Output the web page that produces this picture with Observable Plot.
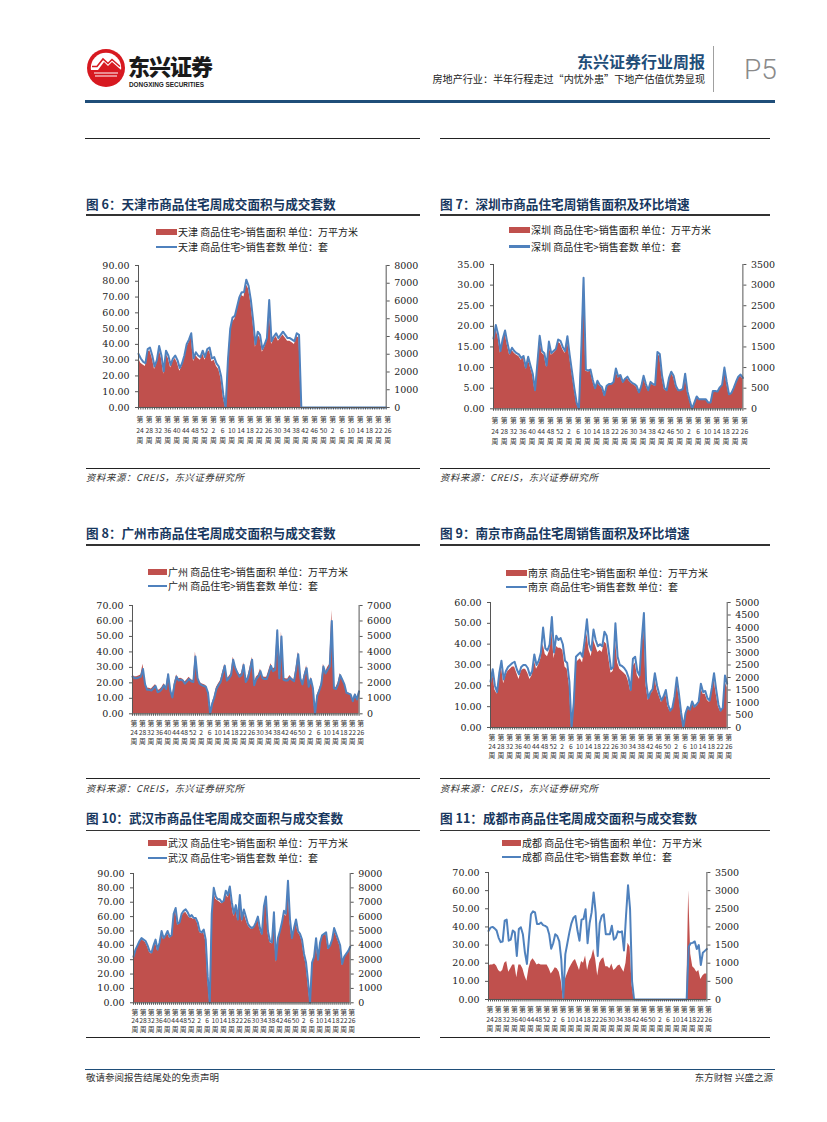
<!DOCTYPE html>
<html><head><meta charset="utf-8">
<script src="https://cdn.jsdelivr.net/npm/d3@7"></script>
<script src="https://cdn.jsdelivr.net/npm/@observablehq/plot@0.6"></script>
<style>
html,body{margin:0;padding:0;background:#fff;}
#page{position:relative;width:827px;height:1122px;overflow:hidden;background:#fff;font-family:"Noto Sans CJK SC",sans-serif;}
#page svg{overflow:visible;}
</style></head>
<body><div id="page"></div>
<script>
// ---------- shared category labels ----------
const xTickLabels = ["24","28","32","36","40","44","48","52","2","6","10","14","18","22","26","30","34","38","42","46","50","2","6","10","14","18","22","26"];

// ---------- 图6 天津 ----------
const tjLeftTicks = [0,10,20,30,40,50,60,70,80,90];
const tjRightTicks = [0,1000,2000,3000,4000,5000,6000,7000,8000];
const tjArea = [31,28,27,26,35,36,31,24,28,37, 31,21,34,31,25,29,31,28,23,26, 31,38,41,45,29,33,31,30,34,30, 35,36,29,30,26,24,18,6,0,28, 48,54,56,62,68,71,70,78,75,66, 53,38,46,44,35,38,42,64,40,43, 45,42,44,46,44,42,42,41,40,45, 44, 0,0,0,0,0,0,0,0,0,0, 0,0,0,0,0,0,0,0,0,0, 0,0,0,0,0,0,0,0,0,0, 0,0,0,0,0,0,0,0];
const tjSets = [3020,2760,2580,2490,3290,3380,2930,2310,2670,3470, 2930,2040,3200,2930,2400,2760,2930,2670,2220,2490, 2930,3560,3820,4180,2760,3110,2930,2840,3200,2840, 3290,3380,2760,2840,2490,2310,1780,710,0,2670, 4440,5070,5160,5690,6220,6490,6490,7200,6850,6050, 4890,3560,4270,4090,3290,3560,3910,6050,3730,4000, 4180,3910,4090,4270,4090,3910,3910,3820,3730,4180, 4090, 0,0,0,0,0,0,0,0,0,0, 0,0,0,0,0,0,0,0,0,0, 0,0,0,0,0,0,0,0,0,0, 0,0,0,0,0,0,0,0];

// ---------- 图7 深圳 ----------
const szLeftTicks = [0,5,10,15,20,25,30,35];
const szRightTicks = [0,500,1000,1500,2000,2500,3000,3500];
const szArea = [16.5,19.5,17.3,13.5,16.3,18.3,15.4,13,14.2,13.5, 13,12.7,11.8,12.3,9.6,12.1,10,8.1,4.2,10.5, 17,13.5,13,10,15.6,13,13.4,14,16.1,15.8, 14.4,13.4,16.9,12.5,8.6,4.7,1.3,0,13.4,31, 9.1,8.9,9.1,6.7,4.8,6.5,5.5,5,3.1,5.3, 5.7,5.7,6.2,9.3,7.4,8.3,6.2,7,7.4,6.5, 6,5.7,5.2,3.8,5.2,7.6,5.7,4.3,6.2,5.7, 5.5,13.2,12.7,7.6,4.7,4.3,7.1,8.6,7.6,5.2, 4.3,4.3,4.6,8.1,4,1.9,0,1.4,2.8,2.2, 2.2,2.2,2.2,1.4,1.4,4.1,4.1,4,4.9,5.5, 9.5,6.2,3.3,3.6,4.8,6.2,7.4,7.9,7.2];
const szSets = [1700,2030,1800,1400,1700,1900,1600,1350,1480,1400, 1350,1320,1230,1280,1000,1260,1050,850,450,1100, 1770,1400,1350,1050,1630,1350,1400,1450,1680,1650, 1500,1400,1760,1300,900,500,150,0,1400,3180, 950,930,950,700,500,680,580,530,330,560, 600,600,650,980,780,820,650,730,780,680, 630,600,550,400,550,800,600,450,650,600, 580,1380,1330,800,500,450,750,900,800,550, 450,450,480,850,420,200,0,150,300,230, 230,230,230,150,150,430,430,420,520,580, 1000,650,350,380,500,650,780,830,750];

// ---------- 图8 广州 ----------
const gzLeftTicks = [0,10,20,30,40,50,60,70];
const gzRightTicks = [0,1000,2000,3000,4000,5000,6000,7000];
const gzArea = [25,24,24,24.5,25,32,20,16.5,16.5,16, 17.5,19,15,15.5,17,19.5,17,26,16,11, 20,25,22.6,23,22.4,20.5,22,23.7,22,21.5, 40,24,20.5,19.4,19,18.3,14,0,7,11, 17,19.4,21.5,27,32,22.6,24,26,36.6,31, 28,25,26,33,21.5,24,30,36.6,19.4,23.7, 25,29,24,23.7,23.7,28,32.3,29,30,54, 24,53,23,22.6,22.5,24.8,23,22,30,40, 24,20,26,31,18.5,23.7,17.2,0,12,15.5, 20,32,27,30,32,66.8,17.5,17,20,26, 23,20,14,13.5,13,8.6,13,9.7,15];
const gzSets = [2400,2300,2300,2350,2400,2900,1900,1550,1550,1500, 1650,1800,1400,1450,1600,1850,1600,2550,1500,1050, 1900,2400,2150,2200,2150,1950,2100,2250,2100,2050, 3700,2300,1950,1850,1800,1750,1350,0,650,1050, 1600,1850,2050,2600,3100,2150,2300,2500,3500,2950, 2650,2400,2500,3150,2050,2300,2850,3500,1850,2250, 2400,2750,2300,2250,2250,2650,3100,2750,2850,5400, 2300,5000,2200,2150,2150,2350,2200,2100,2850,3850, 2300,1900,2500,2950,1750,2250,1650,0,1150,1500, 1900,3050,2600,2850,3050,6000,1650,1600,1900,2500, 2200,1900,1350,1300,1250,820,1250,930,1450];

// ---------- 图9 南京 ----------
const njLeftTicks = [0,10,20,30,40,50,60];
const njRightTicks = [0,500,1000,1500,2000,2500,3000,3500,4000,4500,5000];
const njArea = [20,26,18,16,24,29,21,25,27,28, 29,29,26,23,27,28,28,26,23,25, 32,28,30,33,40,35,34,37,46,33, 39,38,38,37,29,28,20,0,11,31, 32,33,31,38,45,37,34,42,39,36, 37,36,41,40,33,26,27,42,31,28, 27,26,25,22,17,29,31,25,23,37, 49,20,13,16,17,24,18,15,12,14, 16,10,7.5,9,14,22,15,6.5,0,6.5, 9.5,8,11.5,9.5,10,11.5,19,16,16,13, 12,17,23,16,10,7.5,9,22,19];
const njSets = [1830,2330,1670,1420,2170,2670,1920,2250,2420,2500, 2580,2630,2330,2130,2420,2500,2500,2380,2080,2250, 2920,2500,2670,3000,4000,3170,3080,3330,4420,3000, 3670,3500,3580,3330,2670,2580,1830,0,1000,2830, 2920,3000,2830,3500,4330,3330,3080,3920,3500,3250, 3330,3250,3830,3670,3000,2330,2420,4170,2830,2500, 2460,2380,2250,2000,1500,2750,2830,2250,2080,3500, 4580,1830,1170,1420,1540,2170,1670,1330,1080,1250, 1500,920,670,790,1250,2000,1330,580,0,580, 830,710,1040,830,920,1040,1750,1420,1460,1170, 1080,1580,2170,1500,920,670,790,2080,1750];

// ---------- 图10 武汉 ----------
const whLeftTicks = [0,10,20,30,40,50,60,70,80,90];
const whRightTicks = [0,1000,2000,3000,4000,5000,6000,7000,8000,9000];
const whArea = [31,36,39,42,44,43,42,39,35,34, 39,42,36,41,48,44,46,48,45,46, 60,64,54,55,60,62,63,61,59,59, 58,58,55,49,48,49,43,17,0,59, 77,72,71,70,69,70,76,73,79,68, 60,66,57,72,56,63,58,54,52,51, 52,55,58,51,47,65,72,49,42,41, 61,28,44,49,55,62,60,80,56,44, 51,56,49,47,43,33,27,13,0,27, 31,43,29,41,46,47,48,37,39,43, 50,47,43,39,26,31,33,35,38];
const whSets = [3200,3700,4000,4300,4500,4400,4300,4000,3600,3500, 4000,4400,3700,4200,5000,4500,4700,5000,4600,4700, 6200,6600,5500,5600,6200,6400,6500,6300,6000,6100, 5900,5900,5600,5000,4900,5100,4400,1800,0,6200, 8000,7400,7200,7200,7000,7100,7800,7500,8100,7000, 6200,6800,5800,7500,5800,6500,6000,5500,5300,5200, 5300,5600,6000,5200,4800,6700,7400,5000,4300,4200, 6300,3000,4500,5000,5600,6400,6200,8500,5800,4500, 5200,5800,5000,4800,4400,3400,2800,1500,0,2800, 3200,4500,3000,4200,4700,4800,4900,3800,4000,4400, 5200,4800,4400,4000,2700,3200,3400,3600,3900];

// ---------- 图11 成都 ----------
const cdLeftTicks = [0,10,20,30,40,50,60,70];
const cdRightTicks = [0,500,1000,1500,2000,2500,3000,3500];
const cdArea = [18.5,19,19,19.5,18.5,16,15,16,20,21, 15,17,19,19,12,19,19,17,13,10, 17,21,22.5,21,19,19.5,19,19,19,19, 17,14,15.5,17.5,17,15,10,0,11,14, 17,19,21,22,19,16,21,20,24,16, 21,23,27.5,22,13,20,22,23,18,18, 17,19.5,16,17,18.5,19,17,15,20,31, 29,8, 0,0,0,0,0,0,0,0,0,0, 0,0,0,0,0,0,0,0,0,0, 0,0,0,0,0,0,0, 60,25,18,17,15,16,11,13,14,14];
const cdSets = [1890,1980,2000,1960,1900,1700,1580,1600,2170,2200, 1620,1650,1900,1850,1200,1940,1990,1800,1300,980, 1700,2350,2430,2400,2080,2080,2120,2050,2030,1990, 1800,1400,1550,1800,1750,1600,1100,50,1250,1550, 1850,2100,2250,2300,1900,1620,2200,2220,2490,1550, 2100,2400,2950,2400,1200,2100,2300,2350,1800,1800, 1800,2030,1650,1700,1880,1850,1880,1350,2300,3150, 2500,500, 0,0,0,0,0,0,0,0,0,0, 0,0,0,0,0,0,0,0,0,0, 0,0,0,0,0,0,0, 1450,1550,1560,1600,1390,1500,950,1290,1340,1390];

// ---------- page helpers ----------
const CJK = '"Noto Sans CJK SC","Noto Sans",sans-serif';
const NUM = '"DejaVu Serif",serif';
const page = document.getElementById("page");
function el(tag, css, text){ const e=document.createElement(tag); e.style.position="absolute"; Object.assign(e.style, css); if(text!=null) e.textContent=text; page.appendChild(e); return e; }
function rect(l,t,w,h,c){ return el("div",{left:l+"px",top:t+"px",width:w+"px",height:h+"px",background:c}); }
function txt(s,o){
  const css={whiteSpace:"nowrap",fontSize:o.size+"px",lineHeight:o.size+"px",top:(o.cy-o.size/2)+"px",color:o.color||"#222",fontFamily:o.family||CJK,fontWeight:o.weight||"normal",fontStyle:o.style||"normal"};
  if(o.ls!=null) css.letterSpacing=o.ls+"px";
  if(o.right!=null) css.right=(827-o.right)+"px"; else css.left=o.left+"px";
  return el("div",css,s);
}

// ---------- header ----------
const logo = el("div",{left:"86px",top:"48px",width:"40px",height:"40px"});
logo.innerHTML = `<svg width="40" height="40" viewBox="0 0 40 40">
<circle cx="20" cy="20" r="19" fill="#d71920"/>
<circle cx="20" cy="20" r="15.2" fill="#fff"/>
<path d="M4.8 22 L12 22 L18 14 L22 18 L26 14 L35.2 22 A15.2 15.2 0 0 1 4.8 22 Z" fill="#d71920"/>
<path d="M6 18.5 L11 18.5 L17 11 L22 15.5 L26 11.5 L34 18.5" stroke="#d71920" stroke-width="1.6" fill="none"/>
<path d="M8 25 L32 25 M9 28 L31 28" stroke="#fff" stroke-width="1.2"/>
</svg>`;
txt("东兴证券",{left:128,cy:65,size:22,weight:"900",color:"#1a1a1a",ls:-1});
txt("DONGXING SECURITIES",{left:129,cy:85.5,size:6.4,weight:"bold",color:"#222",family:'"Liberation Sans",Arial,sans-serif'});
txt("东兴证券行业周报",{right:705,cy:61,size:16,weight:"bold",color:"#1f4e79"});
txt("房地产行业：半年行程走过“内忧外患”下地产估值优势显现",{right:705,cy:79.5,size:10.1,color:"#222"});
rect(712.5,46,1.8,46,"#a0a0a0");
txt("P5",{left:744,cy:70,size:28,color:"#8a8a8a",weight:"300",family:'"Roboto","Liberation Sans",sans-serif'});
rect(85,100,690,3.2,"#1f4e79");
rect(85,137.5,335,1.6,"#222");
rect(440,137.5,330,1.6,"#222");

// ---------- charts ----------
const charts = [
  {title:"图 6：天津市商品住宅周成交面积与成交套数", city:"天津", left:86, right:420, titleY:204, ulY:214,
   x0:138.3, x1:386, y0:264.7, y1:406.7, area:tjArea, sets:tjSets, lt:tjLeftTicks, rt:tjRightTicks,
   legX:156, legW:21, legY:[232,247], labDy:7, labLH:1.55, srcY:467.5},
  {title:"图 7：深圳市商品住宅周销售面积及环比增速", city:"深圳", left:440, right:770, titleY:204, ulY:214,
   x0:493.3, x1:742.7, y0:264, y1:408.3, area:szArea, sets:szSets, lt:szLeftTicks, rt:szRightTicks,
   legX:509, legW:21, legY:[229.5,246.5], labDy:6.8, labLH:1.55, srcY:467.5},
  {title:"图 8：广州市商品住宅周成交面积与成交套数", city:"广州", left:86, right:420, titleY:533, ulY:544,
   x0:131.7, x1:358.3, y0:605, y1:713.3, area:gzArea, sets:gzSets, lt:gzLeftTicks, rt:gzRightTicks,
   legX:148, legW:19, legY:[571.7,586], labDy:6.3, labLH:1.28, srcY:778},
  {title:"图 9：南京市商品住宅周销售面积及环比增速", city:"南京", left:440, right:770, titleY:533, ulY:544,
   x0:490, x1:726.7, y0:602.3, y1:727.3, area:njArea, sets:njSets, lt:njLeftTicks, rt:njRightTicks,
   legX:506, legW:21, legY:[572.7,586.7], labDy:6.3, labLH:1.34, srcY:778},
  {title:"图 10：武汉市商品住宅周成交面积与成交套数", city:"武汉", left:86, right:420, titleY:818, ulY:829.5,
   x0:133.3, x1:350, y0:872.7, y1:1002, area:whArea, sets:whSets, lt:whLeftTicks, rt:whRightTicks,
   legX:148, legW:19, legY:[842.7,858], labDy:6.3, labLH:1.22, srcY:1037},
  {title:"图 11：成都市商品住宅周成交面积与成交套数", city:"成都", left:440, right:770, titleY:818, ulY:829.5,
   x0:488.3, x1:706.7, y0:871.7, y1:998.7, area:cdArea, sets:cdSets, lt:cdLeftTicks, rt:cdRightTicks,
   legX:502, legW:19, legY:[842.7,857], labDy:5.8, labLH:1.4, srcY:1037}
];

const RED = "#c0504d", BLUE = "#4f81bd";

charts.forEach((c, ci) => {
  // title + underline
  txt(c.title,{left:c.left,cy:c.titleY,size:12.6,weight:"bold",color:"#17375e"});
  rect(c.left, c.ulY, c.right-c.left, 1.8, "#333");
  // legend
  rect(c.legX, c.legY[0]-3, c.legW, 6, RED);
  rect(c.legX, c.legY[1]-1.2, c.legW, 2.4, BLUE);
  txt(`${c.city} 商品住宅>销售面积 单位：万平方米`,{left:c.legX+c.legW+1,cy:c.legY[0],size:10,color:"#222"});
  txt(`${c.city} 商品住宅>销售套数 单位：套`,{left:c.legX+c.legW+1,cy:c.legY[1],size:10,color:"#222"});
  // source rule + text
  rect(c.left, c.srcY, c.right-c.left, 1.2, "#222");
  if (ci < 4) txt("资料来源：CREIS，东兴证券研究所",{left:c.left,cy:c.srcY+10.5,size:9.4,style:"italic",color:"#333",ls:0.6});

  // plot
  const mL=60, mR=50, mT=10, mB=48;
  const W = (c.x1-c.x0)+mL+mR, H = (c.y1-c.y0)+mT+mB;
  const leftMax = c.lt[c.lt.length-1], rightMax = c.rt[c.rt.length-1];
  const k = leftMax/rightMax;
  const n = c.area.length;
  const data = c.area.map((a,i)=>({i, a, s: c.sets[i]*k}));
  const svg = Plot.plot({
    width: W, height: H, marginLeft: mL, marginRight: mR, marginTop: mT, marginBottom: mB,
    x: {domain:[0, n-1], axis:null},
    y: {domain:[0, leftMax], axis:null},
    style: {fontFamily: NUM, fontSize: "9.5px", color: "#222", background: "transparent", overflow: "visible"},
    marks: [
      Plot.areaY(data, {x:"i", y:"a", fill: RED}),
      Plot.lineY(data, {x:"i", y:"s", stroke: BLUE, strokeWidth: 2}),
      Plot.ruleY([0], {stroke:"#555", strokeWidth:1}),
      Plot.ruleX([0, n-1], {stroke:"#555", strokeWidth:1}),
      Plot.axisY({anchor:"left", ticks: c.lt, tickFormat: d3.format(".2f"), tickSize:3, tickPadding:6, stroke:"#555", label:null}),
      Plot.axisY({anchor:"right", ticks: c.rt.map(t=>t*k), tickFormat: v => String(Math.round(v/k)), tickSize:3, tickPadding:5, stroke:"#555", label:null}),
      Plot.axisX({ticks: d3.range(0, n), tickSize: 2.5, tickFormat: () => "", stroke:"#555", label:null}),
      Plot.text(xTickLabels, {x: (d,j)=>j*4, y: () => 0, text: d => `第\n${d}\n周`,
        lineAnchor:"top", dy: c.labDy, dx: 1.5, lineHeight: c.labLH, fontSize: 6.8, fontFamily: CJK, fill:"#333"})
    ]
  });
  svg.style.position = "absolute";
  svg.style.left = (c.x0 - mL) + "px";
  svg.style.top = (c.y0 - mT) + "px";
  page.appendChild(svg);
});

// ---------- footer ----------
rect(85,1068.5,690,1.6,"#1f4e79");
txt("敬请参阅报告结尾处的免责声明",{left:86,cy:1077.5,size:9.5,color:"#333"});
txt("东方财智 兴盛之源",{right:773,cy:1077.5,size:9.5,color:"#333"});
</script>
</body></html>
